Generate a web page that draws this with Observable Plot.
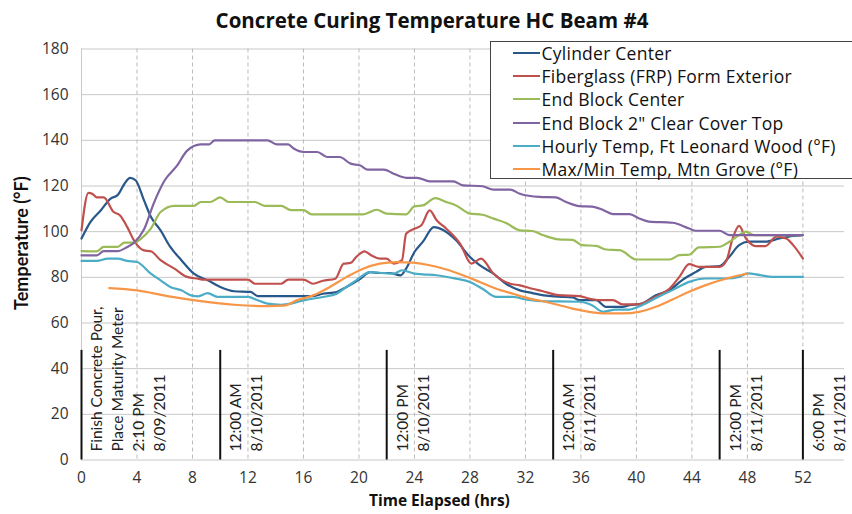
<!DOCTYPE html>
<html>
<head>
<meta charset="utf-8">
<script src="https://cdn.jsdelivr.net/npm/d3@7"></script>
<script src="https://cdn.jsdelivr.net/npm/@observablehq/plot@0.6"></script>
<style>
  html, body { margin: 0; padding: 0; background: #fff; }
  #wrap { position: relative; width: 852px; height: 514px; overflow: hidden; font-family: "Open Sans", Lato, sans-serif; }
  #title { position: absolute; left: 0; width: 864px; top: 6px; text-align: center; font-weight: bold; font-size: 20.5px; line-height: 28px; color: #111; }
  #legend { position: absolute; left: 490px; top: 41px; width: 380px; height: 138px; border: 1.5px solid #444; background: #fff; box-sizing: border-box; }
  #legend .inner { margin-top: -0.8px; }
  .li { height: 23.3px; display: flex; align-items: center; font-size: 17.5px; letter-spacing: 0.25px; color: #111; white-space: nowrap; }
  .sw { width: 27px; height: 2px; margin-left: 21.5px; margin-right: 2px; flex: none; }
  #chart { position: absolute; left: 0; top: 0; }
</style>
</head>
<body>
<div id="wrap">
  <div id="chart"></div>
  <div id="title">Concrete Curing Temperature HC Beam #4</div>
  <div id="legend"><div class="inner"></div></div>
</div>
<script>
// ---- Data (hours elapsed, temperature °F) ----
const seriesNames = [
  "Cylinder Center",
  "Fiberglass (FRP) Form Exterior",
  "End Block Center",
  "End Block 2\" Clear Cover Top",
  "Hourly Temp, Ft Leonard Wood (°F)",
  "Max/Min Temp, Mtn Grove (°F)"
];
const seriesColors = ["#28578A", "#C0504D", "#9BBB59", "#8064A2", "#4BACC6", "#F79646"];

const cylinderHrs  = [0,0.65,1.4,2.1,2.6,3.1,3.5,3.9,4.5,5.0,5.7,6.4,7.2,8.1,9.1,10,11,12.2,12.7,16.7,17.4,18.4,19.1,20.1,20.8,21.5,22.2,23.0,23.4,24.0,24.6,25.4,26.1,27.0,28.0,28.7,29.7,30.6,31.6,32.5,33.5,34.4,35.4,35.9,37.1,37.8,39.0,39.5,40.4,41.4,42.4,43.3,44.3,45.0,46.0,46.7,47.4,48.1,49.3,50.3,51.3,52];
const cylinderTemp = [97,104.3,109.4,114.5,116,121,123.6,122.5,113.8,106.5,100.6,93.3,87.5,81.6,78.7,75.8,73.9,73.6,71.8,71.8,72.8,73.6,75.8,79.4,82.3,81.9,81.9,80.9,83.8,91.1,95.5,102,100.6,96.2,88.9,85.3,81.6,77.2,74.3,73.1,72,71.5,71.2,70,70,67.1,67.1,67.8,68.5,72.2,74.4,78.8,82.4,84.6,84.9,89,94.1,95.6,95.6,97,98.1,98.5];

const frpHrs  = [0,0.5,0.8,1.1,1.6,2.3,2.8,3.3,3.8,4.5,5.0,5.7,6.7,7.6,8.4,8.8,12.0,12.5,14.4,14.9,16.0,16.7,17.4,18.3,18.9,19.4,19.8,20.4,20.9,21.5,22.0,22.5,23.1,23.4,24.0,24.5,25.1,25.6,26.3,27.3,28.1,28.8,29.7,30.9,31.6,32.5,33.2,34.4,35.9,36.6,37.3,38.3,39.0,40.2,40.9,41.6,42.4,43.1,43.8,44.5,46.0,46.5,46.9,47.4,47.9,48.6,49.3,50.1,50.8,51.3,52];
const frpTemp = [100.6,117,116.5,115,115,108.7,107,102,96,91.8,91.4,87.5,83.8,80.2,79.4,79,79,77.2,77.2,79,79,77.2,78.5,79.4,86,86.3,88.9,91.4,89.6,88.2,88.2,86,87.5,99.1,101.3,102.8,109.3,105,101.3,94.7,86,88.2,81.6,77.2,76.5,75,74,72.2,71.8,70.7,70,70,68.2,68.2,70,72.2,75.1,80.2,85.8,84.6,84.6,87.5,96.3,102.5,97,93.7,93.7,97.8,97,94.1,88.3];

const endCenterHrs  = [0,1.1,1.6,2.6,3.1,3.8,4.3,5.0,5.7,6.7,8.1,8.6,9.3,10.0,10.6,12.5,13.2,14.4,15.1,16.0,16.6,20.3,21.3,22.0,23.4,24.0,24.6,25.5,26.3,27.0,28.0,28.9,29.7,30.6,31.6,32.5,33.3,34.4,35.4,36.1,37.1,37.8,38.8,40.0,42.4,43.1,43.8,44.5,46.0,46.7,47.4,47.9,48.5,52];
const endCenterTemp = [91.5,91.4,93.3,93.3,95.2,95.2,97,101.3,108.6,111.3,111.3,113,113,115,113,113,111.3,111.3,109.4,109.4,107.6,107.6,109.6,107.9,107.6,111.1,111.5,114.7,113,111.5,107.9,107.4,105.7,103.8,100.6,100.3,98.4,96.6,96.4,94.1,93.8,92.2,91.9,87.8,87.8,89.7,89.9,93.1,93.4,95.6,98.5,100,98.5,98.5];

const coverTopHrs  = [0,1.1,1.6,2.6,3.3,3.8,4.5,5.2,6.0,6.9,7.6,8.6,9.2,9.6,13.4,14.1,14.9,15.3,16.0,17.0,17.7,18.6,19.4,20.1,20.6,21.8,22.5,23.4,24.2,25.1,26.8,27.5,28.9,29.7,30.9,31.6,33.0,34.2,34.9,35.9,36.8,37.6,38.3,39.5,40.2,40.9,42.6,43.8,44.3,46.0,46.7,52];
const coverTopTemp = [89.6,89.6,91.5,91.5,93.3,95.2,100.9,112.3,122.5,129,135.4,138.2,138.2,140,140,138.2,138.2,136.4,134.9,134.9,132.7,132.7,129.8,129,127.2,127.2,125.4,123.6,123.6,122,122,120.3,119.9,118.4,118.4,116.6,115.2,115,113.1,111.2,111,109.5,107.7,107.7,105.8,104.4,103.9,101.4,100.4,100.4,98.5,98.5];

const hourlyHrs  = [0,1.1,1.9,2.6,3.3,4.0,5.0,5.7,6.4,7.2,7.9,8.4,9.1,9.8,12.0,12.7,13.4,14.4,15.1,16.0,17.4,18.4,19.1,19.8,20.8,21.5,22.5,23.1,24.0,24.6,25.6,27.0,28.0,28.9,29.9,31.1,32.1,33.5,34.4,35.9,36.8,37.6,38.5,39.5,40.4,41.6,42.6,43.8,45.0,46.5,47.4,48.0,48.9,49.8,52];
const hourlyTemp = [87.2,87.2,88.2,88.2,87.2,86.7,81.6,78.7,75.8,74.3,72.1,71.7,73.1,71.4,71.4,70,68.5,68,68.5,69.9,71.4,72.8,75.8,78.7,82.3,82,81.6,83.1,81.6,81.3,80.9,79.4,78,75,71.4,71.4,70.2,69.5,69.5,69.3,67.8,64.9,65.9,65.9,67.8,71.5,74.4,78,79.5,79.5,80.2,81.7,81,80.2,80.2];

const maxMinHrs  = [2.0,4.0,6.2,8.6,11.0,13.4,14.6,15.5,16.7,17.9,19.1,20.3,21.5,22.7,23.9,25.1,26.3,27.5,28.7,29.9,31.1,32.3,33.5,34.4,35.4,36.6,37.8,39.0,40.2,41.4,42.6,43.8,45.0,46.5,48.0];
const maxMinTemp = [75.3,74.3,71.8,69.6,68,67.4,67.6,69.9,72.1,75.8,80.1,83.8,86,86.7,86.4,85.3,83.4,80.9,78,75,72.8,70.7,69.2,67.9,66.3,64.9,64.2,64.2,64.9,67.1,70.3,73.7,76.6,79.5,81.7];

const eventHours = [0, 10, 22, 34, 46, 52];
const eventLabels = [
  ["Finish Concrete Pour,", "Place Maturity Meter", "2:10 PM", "8/09/2011"],
  ["12:00 AM", "8/10/2011"],
  ["12:00 PM", "8/10/2011"],
  ["12:00 AM", "8/11/2011"],
  ["12:00 PM", "8/11/2011"],
  ["6:00 PM", "8/11/2011"]
];
const xTicks = [0,4,8,12,16,20,24,28,32,36,40,44,48,52];
const yTicks = [0,20,40,60,80,100,120,140,160,180];

// ---- Build tables ----
const hrsList = [cylinderHrs, frpHrs, endCenterHrs, coverTopHrs, hourlyHrs, maxMinHrs];
const tempList = [cylinderTemp, frpTemp, endCenterTemp, coverTopTemp, hourlyTemp, maxMinTemp];
const rows = [];
seriesNames.forEach((name, i) => {
  hrsList[i].forEach((h, j) => rows.push({series: name, hour: h, temp: tempList[i][j]}));
});
const labelRows = [];
eventHours.forEach((h, i) => eventLabels[i].forEach((t, k) => labelRows.push({hour: h, line: k, text: t})));

const wide = "'Open Sans', Lato, sans-serif";
const narrow = "Lato, 'Open Sans', sans-serif";
const lineMarks = seriesNames.map((name, i) =>
  Plot.line(rows.filter(d => d.series === name), {
    x: "hour", y: "temp", stroke: seriesColors[i], strokeWidth: 2.2, curve: "monotone-x"
  })
);
const labelMarks = [0,1,2,3].map(k =>
  Plot.text(labelRows.filter(d => d.line === k), {
    x: "hour", y: 3.7, text: "text", rotate: -90, textAnchor: "start", lineAnchor: "middle",
    dx: 16 + 21 * k, fontSize: 15.5, fill: "#222", fontFamily: narrow
  })
);

const chart = Plot.plot({
  width: 852,
  height: 514,
  marginLeft: 81,
  marginRight: 8,
  marginTop: 48.5,
  marginBottom: 54.5,
  style: {fontFamily: wide, fontSize: "15px", color: "#333", background: "transparent"},
  x: {domain: [0, 55]},
  y: {domain: [0, 180]},
  marks: [
    Plot.ruleY(yTicks, {stroke: "#c8c8c8", strokeWidth: 1}),
    Plot.ruleX(xTicks.filter(d => d > 0), {stroke: "#bbb", strokeWidth: 1, strokeDasharray: "4,3"}),
    Plot.ruleX([0], {stroke: "#c8c8c8", strokeWidth: 1}),
    Plot.axisX(xTicks, {tickSize: 0, tickPadding: 12, label: null, fontSize: 15.5, fill: "#333", fontFamily: wide}),
    Plot.axisY(yTicks, {tickSize: 0, tickPadding: 13, label: null, fontSize: 15.5, fill: "#333", fontFamily: wide}),
    Plot.ruleX(eventHours, {y1: 0, y2: 48, stroke: "#111", strokeWidth: 2}),
    ...labelMarks,
    ...lineMarks,
    Plot.text(["Time Elapsed (hrs)"], {x: 25.8, frameAnchor: "bottom", dy: 46, text: d => d, textAnchor: "middle", fontWeight: "bold", fontSize: 15.5, fill: "#111", fontFamily: wide}),
    Plot.text(["Temperature (°F)"], {y: 95, frameAnchor: "left", dx: -59, rotate: -90, textAnchor: "middle", text: d => d, fontWeight: "bold", fontSize: 18, fill: "#111", fontFamily: narrow})
  ]
});
document.getElementById("chart").appendChild(chart);

const legend = document.querySelector("#legend .inner");
seriesNames.forEach((name, i) => {
  const row = document.createElement("div");
  row.className = "li";
  const sw = document.createElement("span");
  sw.className = "sw";
  sw.style.background = seriesColors[i];
  const tx = document.createElement("span");
  tx.textContent = name;
  row.appendChild(sw);
  row.appendChild(tx);
  legend.appendChild(row);
});
</script>
</body>
</html>
